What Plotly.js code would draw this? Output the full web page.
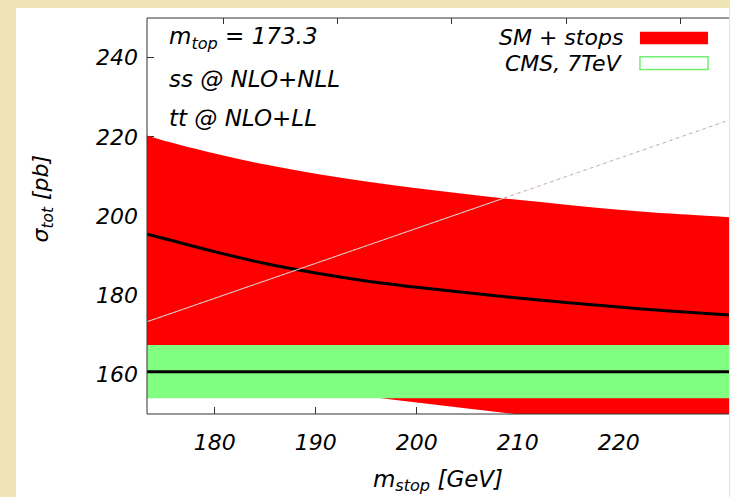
<!DOCTYPE html>
<html>
<head>
<meta charset="utf-8">
<script src="https://cdn.plot.ly/plotly-3.0.1.min.js"></script>
<style>html,body{margin:0;padding:0;background:#eee4b6;}</style>
</head>
<body>
<div id="chart" style="width:730px;height:497px;"></div>
<script>
// m_stop grid (GeV)
const mStop = [173.3, 175, 180, 185, 190, 195, 200, 205, 210, 215, 220, 225, 230.9];
// SM + stops: central value and band edges (pb)
const smStopsCentral = [195.4, 194.3, 191.0, 188.0, 185.6, 183.6, 182.0, 180.6, 179.3, 178.1, 177.0, 176.0, 175.0];
const smStopsUpper   = [220.3, 219.0, 215.8, 213.0, 210.7, 208.7, 207.0, 205.5, 204.1, 202.8, 201.6, 200.6, 199.7];
const smStopsLower   = [162.0, 161.3, 159.6, 157.9, 156.2, 154.5, 152.9, 151.4, 149.9, 148.6, 147.4, 146.3, 145.2];
// CMS 7 TeV measurement band
const cmsX = [170, 235];
const cmsCentral = [160.7, 160.7];
const cmsUpper = [167.4, 167.4];
const cmsLower = [154.0, 154.0];
// thin grey reference line
const refX = [173.3, 230.9];
const refY = [173.3, 224.2];
// ticks
const xTicks = [180, 190, 200, 210, 220];
const yTicks = [160, 180, 200, 220, 240];

const F = 'DejaVu Sans, Verdana, sans-serif';
const txt = (s) => ({family: F, size: s, color: '#000', style: 'italic'});

const traces = [
  {x: mStop, y: smStopsLower, mode: 'lines', line: {width: 0, color: '#ff0000', shape: 'spline'}, showlegend: false, hoverinfo: 'skip'},
  {x: mStop, y: smStopsUpper, mode: 'lines', line: {width: 0, color: '#ff0000', shape: 'spline'}, fill: 'tonexty', fillcolor: '#ff0000', name: 'SM + stops', showlegend: false},
  {x: mStop, y: smStopsCentral, mode: 'lines', line: {width: 3, color: '#000', shape: 'spline'}, showlegend: false},
  {x: refX, y: refY, mode: 'lines', line: {width: 1, color: 'rgba(255,235,235,0.9)'}, showlegend: false},
  {x: refX, y: refY, mode: 'lines', line: {width: 1, color: '#b0b0b0', dash: '3px,4px'}, showlegend: false},
  {x: cmsX, y: cmsLower, mode: 'lines', line: {width: 0, color: '#80ff80'}, showlegend: false},
  {x: cmsX, y: cmsUpper, mode: 'lines', line: {width: 0, color: '#80ff80'}, fill: 'tonexty', fillcolor: '#80ff80', name: 'CMS, 7TeV', showlegend: false},
  {x: cmsX, y: cmsCentral, mode: 'lines', line: {width: 3, color: '#000'}, showlegend: false},
  {x: [], y: [], xaxis: 'x2', showlegend: false}
];

const layout = {
  width: 730, height: 497,
  margin: {l: 147, r: 1, t: 18, b: 83},
  paper_bgcolor: '#eee4b6',
  plot_bgcolor: '#ffffff',
  showlegend: false,
  xaxis: {
    range: [173.3, 230.9], tickvals: xTicks, ticktext: xTicks.map(v => '<i>' + v + '</i>'),
    ticks: 'inside', ticklen: 7, tickcolor: '#333', tickwidth: 1,
    showgrid: false, zeroline: false, showline: false, layer: 'below traces',
    tickfont: txt(22), ticklabelstandoff: 13,
    title: {text: '<i>m<sub>stop</sub> [GeV]</i>', font: txt(23), standoff: 16}
  },
  xaxis2: {
    overlaying: 'x', side: 'top', anchor: 'y', range: [0.336, 5.42],
    tickvals: [1, 2, 3, 4, 5], showticklabels: false,
    ticks: 'inside', ticklen: 6, tickcolor: '#333', showgrid: false, zeroline: false, showline: false
  },
  yaxis: {
    range: [150, 250], tickvals: yTicks, ticktext: yTicks.map(v => '<i>' + v + '</i>'),
    ticks: 'inside', ticklen: 7, tickcolor: '#333', tickwidth: 1,
    showgrid: false, zeroline: false, showline: false, layer: 'below traces',
    tickfont: txt(22), ticklabelstandoff: 8,
    title: {text: ''}
  },
  shapes: [
    {type: 'rect', xref: 'paper', yref: 'paper', x0: -0.2251, x1: 1.0, y0: -0.25, y1: 1.0253, fillcolor: '#ffffff', line: {width: 0}, layer: 'below'},
    {type: 'line', xref: 'paper', yref: 'paper', x0: 0, x1: 0, y0: 0, y1: 1, line: {color: '#333', width: 1}, layer: 'above'},
    {type: 'line', xref: 'paper', yref: 'paper', x0: 0, x1: 1, y0: 1, y1: 1, line: {color: '#333', width: 1}, layer: 'above'},
    {type: 'line', xref: 'paper', yref: 'paper', x0: 0, x1: 1, y0: 0, y1: 0, line: {color: '#333', width: 1}, layer: 'above'},
    {type: 'rect', xref: 'paper', yref: 'paper', x0: 0.847, x1: 0.964, y0: 0.934, y1: 0.965, fillcolor: '#ff0000', line: {width: 0}, layer: 'above'},
    {type: 'rect', xref: 'paper', yref: 'paper', x0: 0.847, x1: 0.964, y0: 0.870, y1: 0.902, fillcolor: '#ffffff', line: {color: '#70f070', width: 1.5}, layer: 'above'}
  ],
  annotations: [
    {xref: 'paper', yref: 'paper', x: -0.180, y: 0.545, xanchor: 'center', yanchor: 'middle', textangle: -90, showarrow: false, text: '<i>σ<sub>tot</sub> [pb]</i>', font: txt(22)},
    {xref: 'paper', yref: 'paper', x: 0.034, y: 0.950, xanchor: 'left', yanchor: 'middle', showarrow: false, text: '<i>m<sub>top</sub> = 173.3</i>', font: txt(23)},
    {xref: 'paper', yref: 'paper', x: 0.034, y: 0.846, xanchor: 'left', yanchor: 'middle', showarrow: false, text: '<i>ss @ NLO+NLL</i>', font: txt(23)},
    {xref: 'paper', yref: 'paper', x: 0.034, y: 0.747, xanchor: 'left', yanchor: 'middle', showarrow: false, text: '<i>tt @ NLO+LL</i>', font: txt(23)},
    {xref: 'paper', yref: 'paper', x: 0.8213, y: 0.952, xanchor: 'right', yanchor: 'middle', showarrow: false, text: '<i>SM + stops</i>', font: txt(22)},
    {xref: 'paper', yref: 'paper', x: 0.8213, y: 0.886, xanchor: 'right', yanchor: 'middle', showarrow: false, text: '<i>CMS, 7TeV</i>', font: txt(22)}
  ]
};

Plotly.newPlot('chart', traces, layout, {displayModeBar: false, staticPlot: true});
</script>
</body>
</html>
